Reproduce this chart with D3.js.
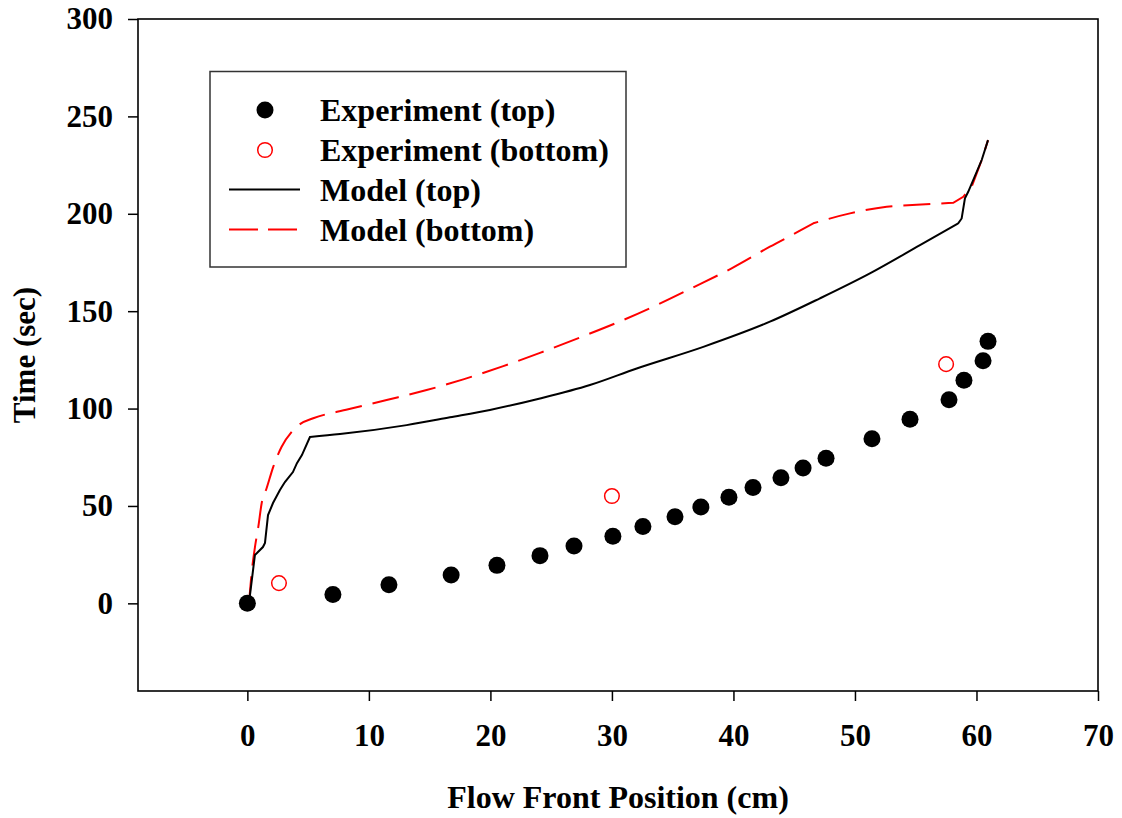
<!DOCTYPE html>
<html>
<head>
<meta charset="utf-8">
<script src="https://cdn.jsdelivr.net/npm/d3@7"></script>
<style>
  html, body { margin: 0; padding: 0; background: #fff; }
  svg { display: block; }
  text { font-family: "Liberation Serif", "Times New Roman", serif; font-weight: bold; fill: #000; }
</style>
</head>
<body>
<svg id="chart" width="1122" height="818"></svg>
<script>
// Measured flow front positions (cm) and times (s)
const expTopX = [0, 7.04, 11.65, 16.77, 20.54, 24.08, 26.88, 30.08, 32.55, 35.19, 37.32, 39.63, 41.61, 43.91, 45.73, 47.62, 51.4, 54.53, 57.74, 58.97, 60.54, 60.95];
const expTopT = [0, 4.5, 9.5, 14.5, 19.5, 24.5, 29.5, 34.5, 39.5, 44.5, 49.5, 54.5, 59.5, 64.5, 69.5, 74.5, 84.5, 94.5, 104.5, 114.5, 124.5, 134.5];

const expBotX = [2.6, 30.0, 57.5];
const expBotT = [10.4, 55.1, 122.8];

// Simulated flow front (top surface)
const modelTopX = [0.13, 0.62, 0.77, 1.28, 1.45, 1.7, 2.11, 2.68, 3.09, 3.75, 4.08, 4.49, 5.15, 7.62, 13.11, 16.67, 19.96, 24.08, 28.19, 32.04, 37.52, 43.0, 47.12, 51.23, 55.35, 58.5, 58.78, 59.05, 59.32, 60.43, 60.95];
const modelTopT = [0, 24.8, 25.7, 28.9, 31, 45.3, 51.5, 58.2, 62.3, 67.4, 72, 76.1, 85.4, 86.9, 91.5, 95.5, 99.3, 105.2, 112.1, 120.6, 131.7, 144.6, 156.6, 169.4, 183.9, 195.1, 197.6, 207.9, 211.3, 227.6, 237.8];
// indices where the top curve has sharp corners
const modelTopBreaks = [12, 25];

// Simulated flow front (bottom surface)
const modelBotX = [0.13, 0.35, 0.63, 0.9, 1.18, 1.59, 2.13, 2.82, 3.65, 4.33, 5.42, 8.3, 11.46, 14.75, 17.77, 21.06, 24.08, 27.37, 30.8, 33.68, 36.69, 39.85, 43.0, 45.47, 46.57, 49.59, 52.61, 55.08, 58.09, 58.91, 59.6, 60.43, 60.95];
const modelBotT = [0, 15.6, 29.1, 39.3, 51.5, 59.2, 70.1, 80.4, 88.1, 92, 95, 99.6, 104.4, 109.5, 115, 121.8, 128.6, 136.5, 145.1, 153.1, 162.2, 172, 183.1, 191.3, 195.1, 200.2, 203.6, 204.6, 205.6, 208.7, 213.9, 227.6, 237.8];
const modelBotBreaks = [24, 28];

const xTicks = [0, 10, 20, 30, 40, 50, 60, 70];
const yTicks = [0, 50, 100, 150, 200, 250, 300];

const legendLabels = ["Experiment (top)", "Experiment (bottom)", "Model (top)", "Model (bottom)"];

const svg = d3.select("#chart");
const plot = { left: 138, right: 1098, top: 19, bottom: 691 };

const x = d3.scaleLinear().domain([-9, 70]).range([plot.left, plot.right]);
const y = d3.scaleLinear().domain([-45, 300]).range([plot.bottom, plot.top]);

const zip = (xs, ys) => xs.map((v, i) => [v, ys[i]]);

// Frame
svg.append("rect")
  .attr("x", plot.left).attr("y", plot.top)
  .attr("width", plot.right - plot.left).attr("height", plot.bottom - plot.top)
  .attr("fill", "none").attr("stroke", "#000").attr("stroke-width", 1.6);

// Axes
const xAxis = svg.append("g")
  .attr("transform", `translate(0,${plot.bottom})`)
  .call(d3.axisBottom(x).tickValues(xTicks).tickSize(10).tickPadding(23).tickFormat(d3.format("d")));
const yAxis = svg.append("g")
  .attr("transform", `translate(${plot.left},0)`)
  .call(d3.axisLeft(y).tickValues(yTicks).tickSize(10).tickPadding(15).tickFormat(d3.format("d")));

[xAxis, yAxis].forEach(g => {
  g.select(".domain").remove();
  g.selectAll(".tick line").attr("stroke", "#000").attr("stroke-width", 1.5);
  g.selectAll(".tick text").style("font-size", "31px").attr("fill", "#000");
});

// Axis titles
svg.append("text")
  .attr("x", (plot.left + plot.right) / 2).attr("y", 808)
  .attr("text-anchor", "middle").style("font-size", "32px")
  .text("Flow Front Position (cm)");
svg.append("text")
  .attr("transform", `translate(35,${(plot.top + plot.bottom) / 2}) rotate(-90)`)
  .attr("text-anchor", "middle").style("font-size", "31px")
  .text("Time (sec)");

// Model curves: smooth between corners, straight through the steep start and end
const smooth = d3.line().curve(d3.curveMonotoneX).x(d => x(d[0])).y(d => y(d[1]));
const straight = d3.line().x(d => x(d[0])).y(d => y(d[1]));
function modelPath(pts, breaks) {
  const [a, b] = breaks;
  const parts = [
    straight(pts.slice(0, a + 1)),
    smooth(pts.slice(a, b + 1)),
    straight(pts.slice(b))
  ];
  return parts[0] + parts.slice(1).map(s => "L" + s.slice(1)).join("");
}
function modelPathBottom(pts, breaks) {
  const [a, b] = breaks;
  const parts = [
    smooth(pts.slice(0, a + 1)),
    smooth(pts.slice(a, b + 1)),
    straight(pts.slice(b))
  ];
  return parts[0] + parts.slice(1).map(s => "L" + s.slice(1)).join("");
}
svg.append("path")
  .attr("d", modelPathBottom(zip(modelBotX, modelBotT), modelBotBreaks)).attr("fill", "none")
  .attr("stroke", "#ff0000").attr("stroke-width", 2).attr("stroke-dasharray", "27,11");
svg.append("path")
  .attr("d", modelPath(zip(modelTopX, modelTopT), modelTopBreaks)).attr("fill", "none")
  .attr("stroke", "#000").attr("stroke-width", 2);

// Experimental points
svg.append("g").selectAll("circle")
  .data(zip(expTopX, expTopT)).join("circle")
  .attr("cx", d => x(d[0])).attr("cy", d => y(d[1])).attr("r", 8.5)
  .attr("fill", "#000");
svg.append("g").selectAll("circle")
  .data(zip(expBotX, expBotT)).join("circle")
  .attr("cx", d => x(d[0])).attr("cy", d => y(d[1])).attr("r", 7.3)
  .attr("fill", "#fff").attr("stroke", "#ff0000").attr("stroke-width", 1.5);

// Legend
const lg = svg.append("g");
lg.append("rect")
  .attr("x", 210).attr("y", 71.5).attr("width", 416).attr("height", 195.5)
  .attr("fill", "#fff").attr("stroke", "#333").attr("stroke-width", 1.5);
const rowY = [110, 150, 189.5, 229.5];
lg.append("circle").attr("cx", 265).attr("cy", rowY[0]).attr("r", 8.5).attr("fill", "#000");
lg.append("circle").attr("cx", 265).attr("cy", rowY[1]).attr("r", 7.3)
  .attr("fill", "#fff").attr("stroke", "#ff0000").attr("stroke-width", 1.5);
lg.append("line").attr("x1", 229).attr("x2", 300).attr("y1", rowY[2]).attr("y2", rowY[2])
  .attr("stroke", "#000").attr("stroke-width", 2);
lg.append("line").attr("x1", 229).attr("x2", 300).attr("y1", rowY[3]).attr("y2", rowY[3])
  .attr("stroke", "#ff0000").attr("stroke-width", 2).attr("stroke-dasharray", "29,10");
lg.selectAll("text.lab")
  .data(legendLabels).join("text")
  .attr("class", "lab")
  .attr("x", 320).attr("y", (d, i) => rowY[i] + 11)
  .style("font-size", "32px")
  .text(d => d);
</script>
</body>
</html>
